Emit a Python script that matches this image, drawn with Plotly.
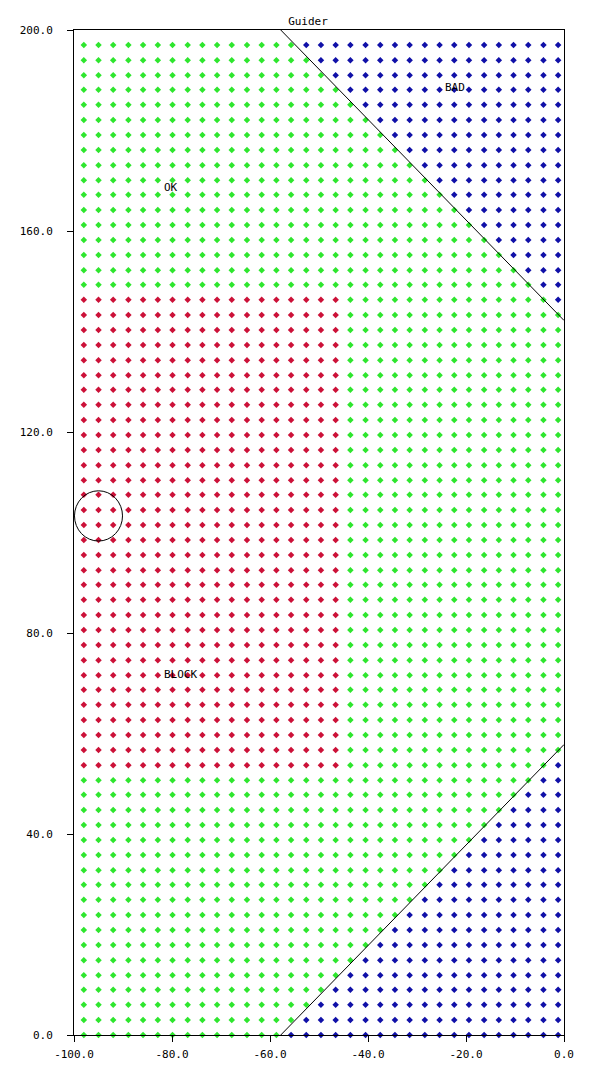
import plotly.graph_objects as go

# grid positions
grid_x = [-98.0, -95.0, -92.0, -88.9, -85.9, -82.9, -79.9, -76.8, -73.8, -70.8,
          -67.8, -64.7, -61.7, -58.7, -55.7, -52.6, -49.6, -46.6, -43.6, -40.5,
          -37.5, -34.5, -31.5, -28.4, -25.4, -22.4, -19.4, -16.3, -13.3, -10.3,
          -7.3, -4.2, -1.2]
grid_y = [0.0, 3.0, 6.0, 9.0, 11.9, 14.9, 17.9, 20.9, 23.9, 26.9,
          29.9, 32.8, 35.8, 38.8, 41.8, 44.8, 47.8, 50.7, 53.7, 56.7,
          59.7, 62.7, 65.7, 68.7, 71.6, 74.6, 77.6, 80.6, 83.6, 86.6,
          89.6, 92.5, 95.5, 98.5, 101.5, 104.5, 107.5, 110.4, 113.4, 116.4,
          119.4, 122.4, 125.4, 128.4, 131.3, 134.3, 137.3, 140.3, 143.3, 146.3,
          149.3, 152.2, 155.2, 158.2, 161.2, 164.2, 167.2, 170.1, 173.1, 176.1,
          179.1, 182.1, 185.1, 188.1, 191.0, 194.0, 197.0]

# region boundaries
block_x = [-100.0, -46.0]
block_y = [53.0, 147.0]
bad_top_x = [-57.8, 0.0]
bad_top_y = [200.0, 142.2]
bad_bot_x = [-57.8, 0.0]
bad_bot_y = [0.0, 57.8]

circle_center = [-95.0, 103.3]
circle_r = [4.9, 5.0]

labels = ["OK", "BAD", "BLOCK"]
label_x = [-82.1, -24.6, -82.1]
label_y = [168.6, 188.5, 71.7]

x_ticks = [-100, -80, -60, -40, -20, 0]
y_ticks = [0, 40, 80, 120, 160, 200]


def line_y(xs, ys, x):
    t = (x - xs[0]) / (xs[1] - xs[0])
    return ys[0] + t * (ys[1] - ys[0])


pts = {"ok": ([], []), "block": ([], []), "bad": ([], [])}
for y in grid_y:
    for x in grid_x:
        if y > line_y(bad_top_x, bad_top_y, x) or y < line_y(bad_bot_x, bad_bot_y, x):
            k = "bad"
        elif block_x[0] <= x <= block_x[1] and block_y[0] <= y <= block_y[1]:
            k = "block"
        else:
            k = "ok"
        pts[k][0].append(x)
        pts[k][1].append(y)

colors = {"ok": "#2ee62e", "block": "#cc1138", "bad": "#1010a8"}

fig = go.Figure()
for k in ["ok", "block", "bad"]:
    fig.add_trace(go.Scatter(
        x=pts[k][0], y=pts[k][1], mode="markers",
        marker=dict(symbol="diamond", size=5, color=colors[k],
                    line=dict(width=0)),
        cliponaxis=False, showlegend=False, hoverinfo="skip"))

for xs, ys in [(bad_top_x, bad_top_y), (bad_bot_x, bad_bot_y)]:
    fig.add_trace(go.Scatter(x=xs, y=ys, mode="lines",
                             line=dict(color="black", width=1),
                             showlegend=False, hoverinfo="skip"))

fig.add_shape(type="circle", xref="x", yref="y",
              x0=circle_center[0] - circle_r[0], x1=circle_center[0] + circle_r[0],
              y0=circle_center[1] - circle_r[1], y1=circle_center[1] + circle_r[1],
              line=dict(color="black", width=1))

for t, x, y in zip(labels, label_x, label_y):
    fig.add_annotation(x=x, y=y, text=t, showarrow=False,
                       xanchor="left", yanchor="middle",
                       font=dict(family="DejaVu Sans Mono", size=11, color="black"))

mono = dict(family="DejaVu Sans Mono", size=11, color="black")
fig.update_layout(
    width=600, height=1080,
    margin=dict(l=64, r=44, t=22, b=53),
    paper_bgcolor="white", plot_bgcolor="white",
    title=dict(text="Guider", font=mono, x=0.5, xref="container",
               xanchor="center", y=1 - 13 / 1080, yref="container", yanchor="middle"),
    font=mono,
)
fig.update_xaxes(range=[-100, 0], tickvals=x_ticks,
                 ticktext=[f"{v:.1f}" for v in x_ticks],
                 showgrid=False, zeroline=False, showline=True, linecolor="black",
                 linewidth=1, mirror=True, ticks="outside", ticklen=6,
                 tickcolor="black", tickfont=mono, ticklabelstandoff=3)
fig.update_yaxes(range=[0, 200], tickvals=y_ticks,
                 ticktext=[f"{v:.1f}" for v in y_ticks],
                 showgrid=False, zeroline=False, showline=True, linecolor="black",
                 linewidth=1, mirror=True, ticks="outside", ticklen=6,
                 tickcolor="black", tickfont=mono, ticklabelstandoff=12)

fig.write_html("out.html")
